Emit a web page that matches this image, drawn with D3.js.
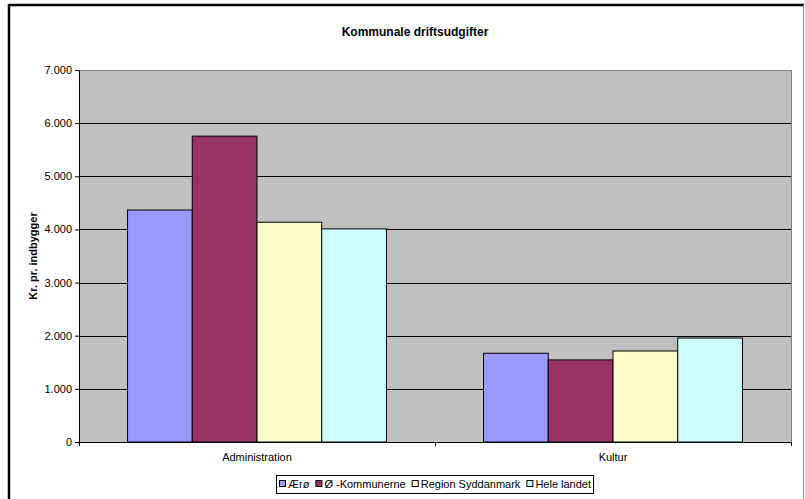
<!DOCTYPE html>
<html>
<head>
<meta charset="utf-8">
<script src="https://cdn.jsdelivr.net/npm/d3@7"></script>
<style>
body { margin: 0; background: #fff; }
svg { font-family: "Liberation Sans", Arial, sans-serif; display: block; }
</style>
</head>
<body>
<svg width="805" height="499"></svg>
<script>
var categories = ["Administration", "Kultur"];
var seriesNames = ["Ærø", "Ø -Kommunerne", "Region Syddanmark", "Hele landet"];
var seriesColors = ["#9999FF", "#993366", "#FFFFCC", "#CCFFFF"];
var adminValues = [4365, 5755, 4135, 4010];
var kulturValues = [1670, 1545, 1712, 1957];
var yTicks = [0, 1000, 2000, 3000, 4000, 5000, 6000, 7000];

var rows = categories.map(function(c, i) {
    var vals = i == 0 ? adminValues : kulturValues;
    return {cat: c, values: seriesNames.map(function(s, j) { return {name: s, value: vals[j], idx: j}; })};
});

var svg = d3.select("svg"),
    margin = {top: 70, right: 14, bottom: 57, left: 79},
    width = 805 - margin.left - margin.right,
    height = 499 - margin.top - margin.bottom;

// outer frame
svg.append("line").attr("x1", 9).attr("x2", 804).attr("y1", 5).attr("y2", 5)
    .attr("stroke", "#000").attr("stroke-width", 2.5);
svg.append("line").attr("x1", 9).attr("x2", 9).attr("y1", 4).attr("y2", 499)
    .attr("stroke", "#000").attr("stroke-width", 2.5);
svg.append("line").attr("x1", 803.5).attr("x2", 803.5).attr("y1", 5).attr("y2", 499)
    .attr("stroke", "#888").attr("stroke-width", 1);

var x0 = d3.scaleBand().domain(categories).range([0, width]).padding(0);
var x1 = d3.scaleBand().domain(seriesNames).range([0, x0.bandwidth()]).paddingInner(0).paddingOuter(0.75);
var y = d3.scaleLinear().domain([0, 7000]).range([height, 0]);

var g = svg.append("g").attr("transform", "translate(" + margin.left + "," + margin.top + ")");

g.append("rect").attr("width", width).attr("height", height).attr("fill", "#C0C0C0");

// gridlines
g.selectAll(".grid")
    .data(yTicks.slice(1))
    .enter().append("line")
    .attr("class", "grid")
    .attr("x1", 0).attr("x2", width)
    .attr("y1", function(d) { return Math.round(y(d)) + 0.5; })
    .attr("y2", function(d) { return Math.round(y(d)) + 0.5; })
    .attr("stroke", function(d) { return d == 7000 ? "#808080" : "#000"; })
    .attr("stroke-width", 1);

// right border of plot
g.append("line").attr("x1", width + 0.5).attr("x2", width + 0.5).attr("y1", 0).attr("y2", height)
    .attr("stroke", "#808080");

// bars
var groups = g.selectAll(".group")
    .data(rows)
    .enter().append("g")
    .attr("class", "group")
    .attr("transform", function(d) { return "translate(" + x0(d.cat) + ",0)"; });

groups.selectAll("rect")
    .data(function(d) { return d.values; })
    .enter().append("rect")
    .attr("x", function(d) { return x1(d.name); })
    .attr("y", function(d) { return y(d.value); })
    .attr("width", x1.bandwidth())
    .attr("height", function(d) { return height - y(d.value); })
    .attr("fill", function(d) { return seriesColors[d.idx]; })
    .attr("stroke", "#000")
    .attr("stroke-width", 1);

// y axis
var yAxis = g.append("g")
    .call(d3.axisLeft(y).tickValues(yTicks).tickSize(4).tickSizeOuter(0)
        .tickFormat(function(d) { return d == 0 ? "0" : d3.format(",")(d).replace(/,/g, "."); }));
yAxis.select(".domain").attr("stroke", "#000");
yAxis.selectAll("text").attr("font-size", "11px").attr("fill", "#000").attr("font-family", "Liberation Sans, Arial, sans-serif");

// x axis
var xAxis = g.append("g")
    .attr("transform", "translate(0," + height + ")")
    .call(d3.axisBottom(x0).tickSize(0).tickPadding(11));
xAxis.select(".domain").attr("stroke", "#000");
xAxis.selectAll("text").attr("font-size", "11px").attr("fill", "#000").attr("font-family", "Liberation Sans, Arial, sans-serif");
xAxis.selectAll(".sep")
    .data([0, x0.bandwidth(), width])
    .enter().append("line")
    .attr("class", "sep")
    .attr("x1", function(d) { return d + 0.5; }).attr("x2", function(d) { return d + 0.5; })
    .attr("y1", 0).attr("y2", 4)
    .attr("stroke", "#000");

// title
svg.append("text")
    .attr("x", 415).attr("y", 36)
    .attr("text-anchor", "middle")
    .attr("font-size", "12px").attr("font-weight", "bold")
    .text("Kommunale driftsudgifter");

// y axis title
svg.append("text")
    .attr("transform", "translate(37," + (margin.top + height / 2) + ") rotate(-90)")
    .attr("text-anchor", "middle")
    .attr("font-size", "11px").attr("font-weight", "bold")
    .text("Kr. pr. indbygger");

// legend
var legend = svg.append("g");
var lx = 279, ly = 484;
var box = legend.append("rect").attr("fill", "#fff").attr("stroke", "#000").attr("stroke-width", 1);
seriesNames.forEach(function(s, i) {
    legend.append("rect")
        .attr("x", lx + 0.5).attr("y", ly - 3.5)
        .attr("width", 6).attr("height", 6)
        .attr("fill", seriesColors[i]).attr("stroke", "#000");
    var t = legend.append("text")
        .attr("x", lx + 9).attr("y", ly + 4)
        .attr("font-size", "11px")
        .text(s);
    lx += 9 + t.node().getComputedTextLength() + 6;
});
box.attr("x", 276.5).attr("y", 475.5).attr("width", lx - 276 - 4).attr("height", 18);
</script>
</body>
</html>
